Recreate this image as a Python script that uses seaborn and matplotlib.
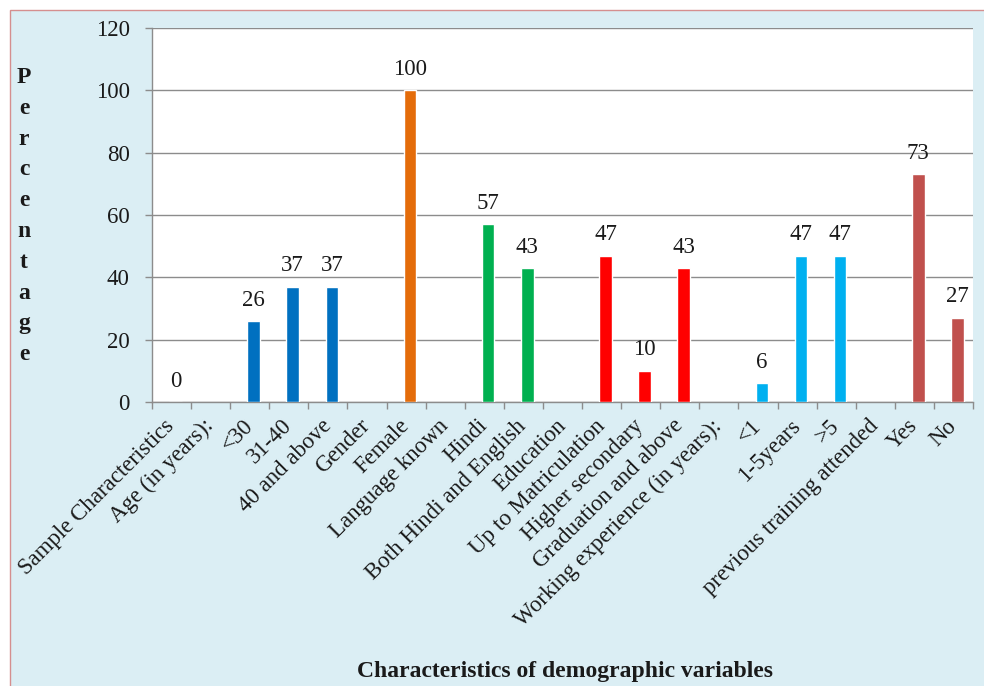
import numpy as np
import pandas as pd
import matplotlib
matplotlib.use("Agg")
import matplotlib.pyplot as plt
from matplotlib.patches import Rectangle
from matplotlib.ticker import FixedLocator, NullFormatter
import seaborn as sns

categories = [
    "Sample Characteristics", "Age (in years):", "<30", "31-40", "40 and above",
    "Gender", "Female", "Language known", "Hindi", "Both Hindi and English",
    "Education", "Up to Matriculation", "Higher secondary", "Graduation and above",
    "Working experience (in years):", "<1", "1-5years", ">5",
    "previous training attended", "Yes", "No",
]
values = [0, None, 26, 37, 37, None, 100, None, 57, 43,
          None, 47, 10, 43, None, 6, 47, 47, None, 73, 27]
groups = ["sample", "age", "age", "age", "age", "gender", "gender", "language",
          "language", "language", "education", "education", "education",
          "education", "experience", "experience", "experience", "experience",
          "training", "training", "training"]
palette = {
    "sample": "#0070C0", "age": "#0070C0", "gender": "#E46C0A",
    "language": "#00B050", "education": "#FF0000", "experience": "#00B0F0",
    "training": "#C0504D",
}
y_ticks = [0, 20, 40, 60, 80, 100, 120]

sns.set_theme(style="white")
plt.rcParams["font.family"] = ["Liberation Serif", "DejaVu Serif"]

FS = 16.5
W, H = 984, 686
fig = plt.figure(figsize=(W / 100, H / 100), dpi=100)
fig.patch.set_facecolor("white")

# light blue chart area with thin pink border
fig.patches.append(Rectangle((9.5 / W, -0.01), 1.0, 1 - 9.5 / H + 0.01,
                             transform=fig.transFigure, facecolor="#DBEEF4",
                             edgecolor="#D58F8F", linewidth=1.0, zorder=-10))

ax = fig.add_axes([152 / W, (H - 402) / H, (973 - 152) / W, (402 - 28) / H])
ax.set_zorder(2)
ax.set_facecolor("white")

idx = np.arange(len(categories))
df = pd.DataFrame({"pos": idx + 0.1, "value": values, "group": groups})
df = df.dropna(subset=["value"])

sns.barplot(data=df, x="pos", y="value", hue="group", palette=palette,
            native_scale=True, dodge=False, width=0.32, saturation=1,
            errorbar=None, legend=False, ax=ax, zorder=3)

for cont in ax.containers:
    ax.bar_label(cont, fmt="%g", padding=7.5, fontsize=FS, color="#1a1a1a")

ax.set_xlim(-0.5, len(categories) - 0.5)
ax.set_ylim(0, 120)
ax.set_yticks(y_ticks)
ax.set_yticklabels([str(v) for v in y_ticks], fontsize=FS, color="#1a1a1a")
ax.yaxis.grid(True, color="#8C8C8C", linewidth=1.0)
ax.set_axisbelow(True)

ax.set_xticks(idx)
ax.set_xticklabels(categories, rotation=45, ha="right", va="center",
                   rotation_mode="anchor", fontsize=FS, color="#1a1a1a")
ax.xaxis.set_minor_locator(FixedLocator(np.arange(-0.5, len(categories), 1.0)))
ax.xaxis.set_minor_formatter(NullFormatter())
ax.tick_params(axis="x", which="major", length=0, pad=15)
ax.tick_params(axis="x", which="minor", length=5, width=1, color="#8C8C8C",
               direction="out", bottom=True)
ax.tick_params(axis="y", which="major", length=5, width=1, color="#8C8C8C",
               direction="out", left=True, pad=11)

for side in ["top", "right"]:
    ax.spines[side].set_visible(False)
for side in ["left", "bottom"]:
    ax.spines[side].set_color("#8C8C8C")
    ax.spines[side].set_linewidth(1.0)

ax.set_xlabel("")
ax.set_ylabel("")

# stacked vertical axis title
word = "Percentage"
top_y, step = 77.5, 30.8
for i, ch in enumerate(word):
    fig.text(24 / W, 1 - (top_y + i * step) / H, ch, ha="center", va="center",
             fontsize=17, fontweight="bold", color="#1a1a1a")

fig.text(565 / W, 1 - 672 / H, "Characteristics of demographic variables",
         ha="center", va="center", fontsize=17, fontweight="bold",
         color="#1a1a1a")

fig.savefig("out.png", dpi=100)
